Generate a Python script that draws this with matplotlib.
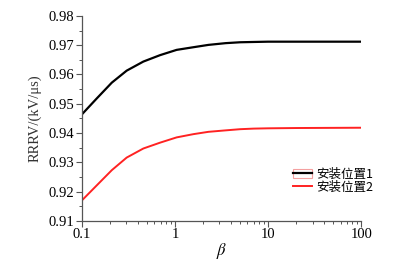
import numpy as np
import matplotlib
matplotlib.use("Agg")
import matplotlib.pyplot as plt
from matplotlib.patches import Rectangle
from matplotlib.ticker import FixedLocator, NullFormatter

plt.rcParams['font.family'] = ['Liberation Serif', 'Noto Sans CJK SC', 'DejaVu Sans']
plt.rcParams['mathtext.fontset'] = 'stix'

# values
beta = [0.1, 0.144, 0.209, 0.302, 0.456, 0.69, 1.04, 1.57, 2.28, 3.5, 5, 7, 10, 20, 100]
pos1 = [0.9464, 0.9518, 0.9572, 0.9613, 0.9644, 0.9666, 0.9684, 0.9693, 0.9701,
        0.9707, 0.9710, 0.9711, 0.9712, 0.9712, 0.9712]
pos2 = [0.9170, 0.9221, 0.9273, 0.9316, 0.9347, 0.9367, 0.9385, 0.9396, 0.9404,
        0.9409, 0.9413, 0.9415, 0.9416, 0.9417, 0.9418]
labels = ["安装位置1", "安装位置2"]
yticks = [0.91, 0.92, 0.93, 0.94, 0.95, 0.96, 0.97, 0.98]
xticks = [0.1, 1, 10, 100]

fig = plt.figure(figsize=(4.1, 2.61), dpi=100)
ax = fig.add_axes([0.2, 0.154, 0.681, 0.785])

l1, = ax.plot(beta, pos1, color='black', lw=1.6)
l2, = ax.plot(beta, pos2, color='#ff2222', lw=1.4)

ax.set_xscale('log')
ax.set_xlim(0.1, 100)
ax.set_ylim(0.91, 0.98)
ax.set_xticks(xticks)
ax.set_xticklabels(["0.1", "1", "10", "100"])
ax.set_yticks(yticks)
ax.yaxis.set_minor_locator(FixedLocator(np.arange(0.915, 0.98, 0.01)))
ax.xaxis.set_minor_formatter(NullFormatter())

for s in ['top', 'right']:
    ax.spines[s].set_visible(False)
for s in ['left', 'bottom']:
    ax.spines[s].set_color('#555555')
    ax.spines[s].set_linewidth(0.9)
ax.tick_params(which='major', direction='out', length=4, width=0.8, color='#555555', labelsize=10.5, pad=1.5)
ax.tick_params(which='minor', direction='out', length=2.5, width=0.7, color='#555555')

ax.set_ylabel("RRRV/(kV/μs)", fontsize=10.5, labelpad=5, color='#333333')
ax.set_xlabel(r"$\beta$", fontsize=12, labelpad=0)

box = Rectangle((0, 0), 1, 1, fc='none', ec='#f4a0a0', lw=0.8)
leg = ax.legend([(box, l1), l2], labels, loc='upper left', bbox_to_anchor=(0.735, 0.29),
                frameon=False, handlelength=1.5, handletextpad=0.35, borderpad=0,
                labelspacing=0.0, prop={'family': ['Noto Sans CJK SC'], 'size': 9})

fig.savefig("out.png", dpi=100)
